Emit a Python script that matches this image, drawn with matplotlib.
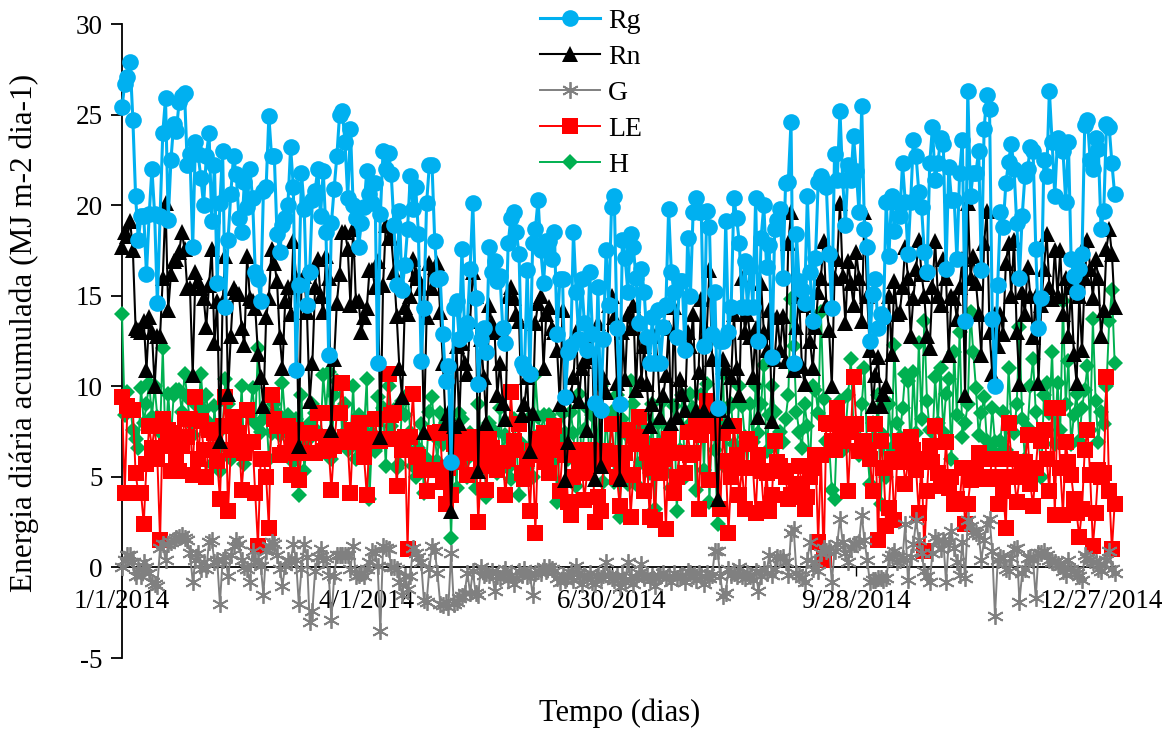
import numpy as np
import matplotlib
matplotlib.use('Agg')
import matplotlib.pyplot as plt

plt.rcParams['font.family'] = ['Liberation Serif', 'DejaVu Serif']
plt.rcParams['axes.unicode_minus'] = False

# daily values, ten days per row
rg = [25.4,26.7,27.1,27.9,24.7,20.5,18.1,19.4,19.4,16.2,
      19.5,22.0,19.5,14.6,19.4,24.0,25.9,19.2,22.5,24.5,
      24.1,25.7,26.0,26.2,22.2,22.8,17.7,23.5,22.8,21.5,
      20.0,22.7,24.0,19.1,22.2,15.7,20.1,23.0,14.4,18.1,
      20.6,22.7,21.7,19.3,18.5,21.3,19.9,22.0,20.4,16.3,
      15.9,14.7,20.8,21.0,24.9,22.7,22.7,18.4,17.4,18.9,
      19.3,20.0,23.2,21.0,10.9,15.6,21.8,19.8,14.5,16.3,
      20.3,20.8,22.0,19.4,21.9,18.5,11.7,19.0,20.9,22.7,
      25.0,25.2,23.5,20.4,24.2,20.0,19.3,17.7,19.0,19.9,
      21.9,20.6,20.1,21.2,11.3,19.5,23.0,22.0,22.9,21.7,
      18.9,15.6,19.7,15.3,16.7,18.7,21.6,19.8,21.0,18.4,
      11.4,14.3,20.1,22.2,22.2,18.0,15.9,16.0,12.9,10.3,
      11.1,5.8,14.3,14.7,12.6,17.6,12.9,13.5,16.5,20.1,
      14.9,10.1,12.6,13.2,11.9,17.7,16.3,16.9,15.8,16.1,
      13.2,12.4,17.9,19.3,19.6,18.5,17.3,11.3,11.0,16.4,
      10.7,17.9,18.7,20.3,17.5,15.7,18.0,18.0,17.0,18.5,
      12.9,15.9,15.9,9.4,11.9,12.2,18.5,15.2,12.6,15.9,
      13.5,12.0,16.3,12.9,9.1,15.5,8.7,12.6,17.5,14.5,
      19.9,20.5,13.2,9.0,18.1,17.1,15.2,18.4,17.7,16.0,
      13.5,16.5,15.2,12.7,11.3,13.8,11.3,14.2,11.3,13.3,
      14.5,19.8,16.3,15.2,12.7,15.8,15.8,12.0,18.2,15.0,
      19.6,20.4,19.6,19.6,12.2,19.7,18.8,12.9,15.2,8.8,
      12.5,12.5,19.1,13.0,14.4,20.4,19.3,17.9,14.4,16.9,
      14.4,16.6,14.4,20.4,12.5,18.2,20.0,16.6,17.8,11.6,
      18.7,19.2,19.8,16.0,21.2,21.3,24.6,11.3,18.4,15.8,
      15.3,14.6,20.5,16.3,13.6,17.1,21.3,21.6,21.3,21.0,
      17.3,14.3,22.8,21.4,25.2,21.4,18.9,22.2,21.4,23.8,
      21.9,19.6,25.5,18.7,17.7,12.5,15.1,15.9,13.2,14.0,
      13.8,20.2,17.2,20.5,18.6,20.2,19.4,22.3,20.2,17.3,
      20.2,23.6,22.7,20.7,19.9,17.4,16.3,22.3,24.3,21.4,
      22.3,23.7,23.4,16.5,22.1,20.3,20.3,17.0,21.8,23.6,
      13.6,26.3,20.5,21.8,21.8,23.0,16.4,24.2,26.1,25.3,
      13.7,10.0,15.6,19.6,18.8,21.2,22.4,23.4,22.0,19.0,
      16.0,19.4,21.6,22.0,23.2,23.0,17.6,13.2,14.9,22.5,
      21.6,26.3,23.5,20.5,23.7,23.4,23.0,20.2,23.5,17.0,
      16.1,15.2,16.5,17.3,24.4,24.7,22.5,22.0,23.7,23.1,
      18.7,19.7,24.5,24.3,22.3,20.6]

rn = [17.7,18.5,18.3,19.1,17.5,13.2,13.1,13.0,13.6,10.9,
      13.8,13.0,10.0,12.8,12.8,16.0,20.1,14.2,16.2,16.9,
      17.0,17.4,18.5,17.6,15.4,15.4,10.6,16.3,15.8,15.4,
      14.9,13.3,15.6,17.6,12.4,14.7,7.0,14.7,17.2,9.6,
      12.8,15.4,15.2,15.1,13.2,12.3,17.2,14.9,14.7,14.3,
      11.8,10.5,8.9,13.8,14.9,17.6,16.8,15.8,12.7,11.0,
      14.7,15.5,14.0,18.0,16.0,6.7,15.8,16.1,14.1,9.2,
      11.3,15.5,17.0,15.0,14.1,17.2,16.0,7.6,11.5,14.6,
      16.2,18.5,18.5,17.6,14.5,18.7,14.7,14.7,13.0,13.8,
      14.3,16.4,16.4,15.5,16.9,7.2,15.6,18.9,18.2,18.2,
      16.3,13.9,11.0,9.4,14.4,14.0,15.0,17.0,16.2,16.0,
      15.4,7.5,13.8,16.8,15.4,16.6,16.8,14.1,11.3,8.0,
      8.5,3.1,7.8,12.2,8.0,12.4,11.3,10.7,13.6,16.3,
      15.0,5.3,12.6,10.5,8.0,14.5,13.5,13.0,9.5,11.3,
      9.1,8.2,15.0,15.5,14.9,14.0,13.6,8.4,9.0,10.5,
      6.4,8.5,13.5,14.6,15.0,11.0,14.0,14.4,13.2,13.0,
      12.0,9.0,14.2,4.8,6.9,9.5,10.5,13.0,9.2,11.0,
      11.4,7.6,13.2,11.6,4.9,13.5,5.6,10.5,9.7,14.5,
      15.0,13.8,10.2,4.9,13.0,10.4,14.0,13.2,14.5,9.8,
      13.7,10.3,12.2,10.1,7.8,9.0,12.8,11.3,8.3,9.5,
      10.6,13.2,8.0,14.4,8.3,10.4,9.6,8.7,13.0,12.2,
      14.0,8.7,10.8,14.8,8.7,13.0,16.4,11.5,8.7,3.8,
      8.7,11.5,11.0,8.1,10.5,14.0,11.0,9.5,16.0,13.0,
      14.0,12.7,10.5,13.2,8.3,15.7,13.0,12.0,14.2,8.1,
      11.5,13.8,12.0,13.9,11.4,17.9,19.6,10.9,13.3,15.0,
      11.1,10.1,14.5,12.5,11.0,13.3,15.2,16.0,18.0,14.5,
      13.1,10.0,16.0,17.0,20.1,16.1,13.5,16.9,15.7,14.5,
      17.4,16.0,13.6,19.6,15.0,12.0,8.9,10.6,11.6,8.9,
      9.6,10.0,15.0,11.8,15.8,14.0,14.1,15.5,17.7,16.0,
      12.8,14.9,16.5,18.1,16.2,15.0,12.8,12.1,15.5,18.0,
      15.0,14.5,17.0,16.0,11.7,15.0,14.9,13.7,15.5,17.0,
      9.5,20.1,16.0,17.2,15.7,14.0,11.7,17.9,19.7,13.0,
      10.7,14.0,12.2,14.0,12.9,16.8,17.9,15.0,18.1,13.0,
      10.1,15.2,14.0,16.6,15.0,12.7,15.0,10.2,14.5,16.5,
      18.4,15.5,14.8,17.5,15.0,17.5,14.0,16.0,12.8,15.5,
      11.8,10.2,15.0,12.0,16.0,18.1,16.5,14.9,17.0,16.0,
      12.8,14.2,17.6,18.7,17.3,14.4]

g = [0.0,0.4,0.7,0.7,0.3,-0.5,-0.1,-0.5,0.3,0.0,
     -0.3,-0.8,-0.9,-1.0,1.1,1.3,0.4,1.3,1.4,1.5,
     1.6,1.7,1.8,1.6,1.5,0.8,-0.8,0.4,0.8,-0.1,
     0.3,-0.1,1.4,1.5,0.3,0.4,-2.0,0.4,0.6,-0.5,
     0.7,1.2,1.5,1.3,0.4,0.0,-0.1,-0.8,0.9,0.3,
     0.4,0.1,-1.5,0.9,1.2,1.4,1.3,0.7,-0.1,-1.0,
     0.1,0.4,0.3,1.3,0.4,-2.0,-0.1,1.3,0.6,-3.0,
     -2.4,-0.2,0.6,1.0,0.4,0.5,-0.4,-2.9,-0.5,0.7,
     0.7,0.7,0.7,0.7,-0.1,1.2,-0.5,-0.4,-0.3,-0.5,
     -0.1,0.3,0.9,0.8,0.1,-3.5,1.2,1.1,1.0,0.0,
     0.0,-0.1,-0.8,-1.5,-0.5,-1.2,-0.5,1.1,0.8,0.6,
     0.3,-1.8,-1.9,-0.1,1.2,0.9,-0.3,-2.0,-2.1,-1.9,
     -2.2,0.8,-2.0,-1.9,-1.7,-1.6,-1.4,-0.3,-1.4,-0.2,
     -1.4,-1.5,0.0,-0.4,-0.3,-0.4,-0.2,-1.3,-0.5,-0.6,
     -0.3,-0.1,-0.7,-0.4,-0.9,-0.6,-0.2,-0.4,-0.1,-0.5,
     -0.4,-1.5,-0.3,-0.2,-0.3,0.0,-0.2,0.0,-0.1,-0.2,
     -0.6,-0.8,-0.4,-0.7,-0.5,-0.3,-0.7,0.1,-0.3,-0.9,
     -0.4,-0.6,-0.3,-0.8,-0.9,-0.4,-0.6,-0.4,0.3,-0.5,
     -0.6,-0.7,-0.5,-1.1,-0.4,-0.8,0.3,-0.5,-0.9,-0.6,
     -0.3,0.2,-0.6,-0.4,-0.7,-0.5,-1.0,-0.4,-0.5,-0.3,
     -0.6,-0.5,-0.8,-0.3,-0.6,-0.5,-0.4,-0.8,-0.2,-0.3,
     -0.5,-0.7,-0.3,-0.5,-0.9,-0.3,-0.6,-0.4,0.9,0.9,
     -0.5,-1.6,-1.4,-0.1,-0.4,-0.3,-0.5,0.0,-0.5,-0.6,
     -0.3,-0.5,-0.7,-0.2,-1.3,-0.5,-0.1,-0.3,0.7,-0.4,
     -0.1,0.6,0.5,0.6,0.3,-0.4,1.9,2.1,-0.3,-0.4,
     -0.6,-0.8,0.4,1.4,-0.1,0.3,-0.2,0.8,1.1,0.9,
     1.1,-0.8,0.9,1.3,2.7,1.4,0.8,0.3,1.1,1.3,
     1.3,1.4,2.9,1.5,0.4,-0.8,-0.7,-0.7,-0.6,-0.6,
     -0.7,-0.6,0.5,0.7,0.9,0.3,0.4,0.5,2.4,-0.7,
     0.6,1.3,2.6,1.5,0.8,-0.2,-0.5,-0.8,0.8,1.7,
     1.5,1.0,1.5,-0.8,1.4,2.0,1.1,0.3,-0.4,1.4,
     -0.6,2.6,2.3,2.0,1.9,1.8,0.4,1.5,2.4,2.7,
     0.9,-2.7,0.4,0.6,0.5,-0.1,-0.2,0.5,1.0,1.1,
     -1.9,-0.3,-0.1,0.5,0.6,0.4,-1.7,0.8,0.8,0.9,
     0.7,0.4,0.3,0.3,0.2,0.1,-0.2,-0.4,0.4,-0.1,
     -0.2,-0.3,-0.5,-0.7,0.7,0.5,0.4,0.3,0.3,-0.1,
     -0.2,0.2,0.4,0.9,-0.1,-0.3]

le = [9.4,4.1,8.9,8.7,8.7,5.2,4.1,4.1,2.4,5.7,
      7.8,6.6,7.8,6.0,1.5,8.2,6.7,7.6,5.3,7.4,
      6.2,5.3,6.7,8.2,7.2,8.2,5.1,9.4,6.0,8.1,
      6.5,5.0,7.6,6.5,7.4,5.9,3.8,7.8,9.4,3.1,
      6.5,8.3,7.2,7.4,4.3,6.3,8.7,6.9,6.9,4.1,
      1.2,6.0,6.0,5.0,2.2,9.5,8.2,7.8,6.2,7.8,
      6.3,7.8,5.1,7.2,7.6,4.8,6.3,7.4,6.3,7.4,
      6.3,6.3,8.5,8.5,6.4,7.2,6.5,4.3,6.7,8.5,
      8.5,10.2,7.2,6.9,4.1,7.6,6.9,8.0,7.0,6.1,
      4.0,7.1,7.1,8.2,7.0,7.0,7.1,7.1,10.7,8.4,
      8.5,4.5,7.1,6.5,7.2,1.0,7.2,9.6,6.2,6.1,
      5.4,5.4,4.2,5.4,5.4,7.4,7.4,7.5,4.7,3.5,
      5.5,4.0,6.8,5.8,7.2,6.5,6.3,5.1,6.4,7.2,
      7.0,2.5,5.6,6.2,4.3,7.1,6.6,5.8,5.4,6.3,
      5.9,4.0,6.0,9.7,7.0,6.5,7.9,5.2,4.9,6.0,
      3.1,6.4,1.9,7.1,6.2,7.4,5.8,5.2,7.1,7.8,
      6.5,4.2,6.5,6.2,3.6,2.9,5.0,6.5,5.6,6.0,
      3.7,5.2,6.5,6.1,2.5,3.9,3.1,5.6,6.4,6.0,
      7.9,6.3,5.0,3.4,5.5,6.3,7.6,2.8,5.1,6.8,
      8.3,7.2,4.2,6.3,2.8,5.5,2.6,6.7,5.2,6.0,
      2.1,7.1,6.3,4.1,5.0,6.3,6.3,5.2,7.5,6.2,
      6.3,8.0,3.2,7.3,8.0,9.2,4.8,7.8,8.5,7.4,
      3.2,7.4,5.9,1.9,5.0,7.8,6.2,4.0,5.5,3.2,
      7.1,6.8,5.5,3.0,6.2,5.3,3.2,5.2,3.1,4.0,
      7.0,5.8,5.6,5.3,5.0,3.8,4.0,3.9,4.3,5.6,
      4.6,3.2,3.9,5.0,5.5,6.2,1.4,6.2,0.4,8.0,
      7.9,7.0,6.5,8.8,7.5,7.0,7.9,4.2,7.5,10.5,
      7.9,6.4,6.6,7.0,6.5,6.0,4.2,7.9,1.5,7.0,
      5.5,2.3,3.3,6.0,2.6,5.8,7.0,6.3,4.6,5.8,
      7.2,6.5,5.4,3.0,6.0,0.9,4.2,6.7,5.8,7.8,
      5.2,5.0,4.5,6.9,4.4,5.0,3.5,3.8,3.5,5.5,
      2.4,3.5,4.8,5.0,5.5,6.3,4.9,4.9,5.0,4.9,
      6.0,6.0,3.5,5.0,4.2,2.2,8.0,6.0,5.0,3.6,
      5.0,5.4,5.8,7.3,4.6,3.4,5.5,7.3,7.0,7.6,
      6.0,4.2,8.8,2.9,8.8,5.5,2.9,6.9,5.8,5.1,
      3.8,3.0,1.7,3.2,6.5,7.6,5.1,1.2,3.0,5.4,
      5.0,5.2,10.5,4.2,1.0,3.5]

h = [14.0,8.4,9.7,8.9,7.6,7.1,6.6,9.9,8.0,9.0,
     10.2,8.3,10.0,8.3,7.5,12.1,6.7,9.6,7.2,9.5,
     9.8,9.8,8.6,10.7,9.4,8.0,7.3,9.0,8.3,10.7,
     8.7,9.5,8.0,5.7,8.9,6.5,5.3,7.7,10.4,9.0,
     6.0,8.2,7.5,7.0,10.0,5.7,8.6,8.4,9.9,8.0,
     12.1,7.5,8.2,8.6,6.0,7.4,9.0,8.5,7.3,10.2,
     8.2,8.4,7.0,5.8,8.2,4.0,9.5,5.3,7.0,8.0,
     9.0,8.5,7.5,7.3,10.6,8.6,10.8,6.0,9.5,10.3,
     10.1,7.3,9.0,6.5,7.1,10.0,6.0,8.4,7.2,7.6,
     10.4,3.8,7.4,6.4,9.4,6.8,8.8,5.6,10.0,7.8,
     8.7,5.5,5.7,9.2,8.4,9.6,7.5,5.6,5.0,6.6,
     7.9,4.1,6.0,8.6,9.4,7.2,5.9,8.5,6.8,8.0,
     7.0,1.6,6.9,4.4,8.5,8.2,5.9,5.0,7.4,6.8,
     4.4,9.0,7.0,6.2,3.9,8.0,6.0,7.5,5.2,8.8,
     6.4,7.3,5.5,4.9,8.2,7.0,4.0,6.8,6.2,5.5,
     8.3,5.0,10.6,8.3,7.5,8.4,6.9,8.4,5.8,8.0,
     3.6,7.0,8.5,7.4,6.0,8.6,7.4,4.5,9.6,5.8,
     7.6,8.8,5.5,8.4,9.0,6.6,10.0,4.7,8.6,6.0,
     8.6,4.7,9.5,2.8,8.2,7.4,4.6,10.3,9.0,4.6,
     7.8,5.8,8.3,7.0,5.2,9.0,3.2,8.0,6.6,9.2,
     5.2,7.7,4.4,8.9,3.1,6.5,9.5,5.0,7.8,9.6,
     8.8,4.3,7.3,9.5,5.4,10.1,3.6,8.5,6.5,2.4,
     8.0,10.7,5.5,8.8,9.0,6.8,5.5,10.0,8.9,7.2,
     5.5,9.0,6.9,10.0,7.4,9.0,11.2,6.4,8.4,10.0,
     8.6,5.8,7.5,6.9,8.2,9.5,14.8,12.2,8.6,7.5,
     6.6,9.0,7.8,5.5,10.0,9.8,8.5,14.1,9.3,7.0,
     6.8,4.3,3.8,8.0,9.2,6.5,7.4,9.5,11.5,7.6,
     8.0,6.2,9.0,11.0,6.5,4.6,8.0,7.0,9.5,3.5,
     7.3,5.0,9.0,6.6,12.3,8.0,7.2,8.8,10.7,10.3,
     6.4,10.8,7.4,12.4,8.2,13.6,9.2,7.6,6.8,10.5,
     8.0,11.0,7.5,9.6,10.4,6.0,11.9,8.4,13.0,7.2,
     8.0,9.0,14.1,11.9,9.9,7.3,8.5,9.4,7.0,6.5,
     8.8,6.9,6.2,7.0,8.6,6.5,11.0,8.0,7.4,9.0,
     13.3,8.2,6.0,7.7,10.0,11.5,8.6,7.4,5.0,9.5,
     10.2,8.5,11.9,6.8,10.2,7.6,14.7,9.0,11.4,6.8,
     8.4,9.6,7.0,8.8,9.8,11.1,7.6,13.7,9.2,6.9,
     8.6,7.9,10.0,13.6,15.3,11.3]

tick_days = [0, 90, 180, 270, 360]
tick_labels = ['1/1/2014', '4/1/2014', '6/30/2014', '9/28/2014', '12/27/2014']

W, H = 1173, 729
fig = plt.figure(figsize=(W/100, H/100), dpi=100)
ax = fig.add_axes([122/W, 1-658/H, 994/W, 634/H])

# (name, values, colour, marker, size, line width, z), H ends up lowest as in the original
styles = [('Rg', rg, '#00B0F0', 'o', 12, 2.2, 7),
          ('Rn', rn, 'black', '^', 12, 1.5, 6),
          ('G', g, '#808080', (6, 2, 0), 12, 1.4, 5),
          ('LE', le, '#FF0000', 's', 12, 1.4, 4),
          ('H', h, '#00B050', 'D', 8.5, 1.4, 3)]
for name, vals, col, mk, ms, lw, z in styles:
    ax.plot(np.arange(len(vals)), vals, color=col, marker=mk, markersize=ms, lw=lw,
            markeredgewidth=1.3 if name == 'G' else 0, markeredgecolor=col,
            label=name, zorder=z, clip_on=False)

ax.set_xlim(0, 365.5)
ax.set_ylim(-5, 30)
ax.set_yticks(np.arange(-5, 31, 5))
ax.set_xticks(tick_days)
ax.set_xticklabels(tick_labels)
ax.spines['top'].set_visible(False)
ax.spines['right'].set_visible(False)
ax.spines['bottom'].set_position(('data', 0))
ax.spines['left'].set_linewidth(1.3)
ax.spines['bottom'].set_linewidth(1.3)
ax.set_axisbelow(True)
ax.tick_params(axis='y', direction='out', length=8, width=1.3, pad=6, labelsize=19.5)
ax.tick_params(axis='x', direction='out', length=6.5, width=1.0, pad=9, labelsize=19.5)

ax.set_ylabel('Energia diária acumulada (MJ m-2 dia-1)', fontsize=22.5, va='center')
ax.yaxis.set_label_coords((24-122)/994, (658-333)/634)
ax.set_xlabel('Tempo (dias)', fontsize=22, va='center')
ax.xaxis.set_label_coords((620-122)/994, (658-713)/634)

leg = ax.legend(loc='upper left', bbox_to_anchor=(540/W, 1-8.7/H), bbox_transform=fig.transFigure,
                frameon=False, numpoints=1, fontsize=20, handlelength=2.16,
                handletextpad=0.29, labelspacing=0.375, borderpad=0, borderaxespad=0)
leg.set_zorder(10)

fig.savefig('out.png', dpi=100)
